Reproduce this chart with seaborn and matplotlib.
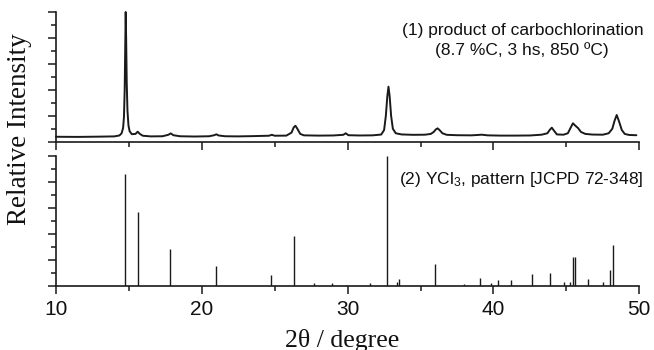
import matplotlib
matplotlib.use("Agg")
import matplotlib.pyplot as plt
from matplotlib.ticker import MultipleLocator
import seaborn as sns
import pandas as pd

# ---- data ----
# (1) measured pattern (2theta, relative intensity, max = 100)
meas_2theta = [10.0, 11.5, 13.0, 14.0, 14.35, 14.5, 14.6, 14.66, 14.71, 14.75, 14.78, 14.81,
               14.85, 14.9, 14.97, 15.05, 15.2, 15.45, 15.6, 15.75, 15.95, 16.5, 17.3, 17.7,
               17.87, 18.05, 18.5, 19.5, 20.5, 20.85, 21.0, 21.15, 21.6, 22.5, 23.5, 24.6,
               24.8, 25.0, 25.8, 26.15, 26.3, 26.42, 26.55, 26.75, 27.0, 28.0, 29.0, 29.7,
               29.87, 30.05, 30.8, 31.7, 32.3, 32.5, 32.62, 32.72, 32.8, 32.88, 32.98, 33.1,
               33.3, 33.7, 34.5, 35.3, 35.7, 35.9, 36.05, 36.17, 36.3, 36.5, 36.8, 37.5,
               38.5, 39.2, 39.6, 40.5, 41.5, 42.5, 43.3, 43.7, 43.85, 44.0, 44.15, 44.35,
               44.8, 45.1, 45.3, 45.45, 45.6, 45.8, 46.0, 46.3, 46.8, 47.5, 47.9, 48.15,
               48.3, 48.45, 48.6, 48.8, 49.0, 49.3, 49.8]
meas_int = [3.8, 3.7, 3.9, 4.1, 4.8, 6.5, 10.5, 19, 40, 75, 100, 80,
            46, 24, 12.5, 8, 5.8, 6.0, 7.7, 6.0, 4.6, 4.1, 4.2, 5.3,
            6.4, 5.0, 4.2, 4.0, 4.2, 5.0, 5.7, 4.8, 4.2, 4.1, 4.3, 4.6,
            5.3, 4.6, 4.7, 7.0, 11.0, 12.3, 10, 6.0, 4.9, 4.7, 4.8, 5.3,
            6.5, 5.0, 4.8, 4.9, 5.5, 9, 20, 35, 42.4, 35, 20, 10,
            6.5, 5.6, 5.3, 5.4, 6.0, 7.5, 9.5, 10.3, 9.0, 6.5, 5.3, 5.0,
            4.9, 5.4, 4.9, 4.7, 4.7, 4.8, 5.4, 6.5, 9.0, 10.8, 8.5, 5.6,
            5.4, 6.5, 11, 14.2, 12.5, 10.5, 7.5, 6.0, 5.5, 5.4, 6.5, 10,
            16, 20.6, 16, 9, 6.0, 5.2, 5.0]

# (2) YCl3 reference pattern [JCPD 72-348]
ref_2theta = [14.73, 15.60, 17.80, 20.98, 24.73, 26.31, 27.66, 28.90, 29.90, 31.50,
              32.69, 33.37, 33.50, 36.00, 38.00, 39.09, 39.83, 40.28, 41.17, 42.64,
              43.87, 44.87, 45.22, 45.45, 45.59, 46.50, 47.48, 48.01, 48.22]
ref_int = [86, 57, 28.5, 15.4, 8, 38.5, 1.8, 2.3, 0.8, 2.3,
           100, 2.5, 4.9, 16.5, 1.2, 5.6, 2.3, 4.4, 4.4, 9,
           10, 3.1, 3.1, 22.4, 22.4, 4.9, 2.9, 12.1, 31.6]

x_ticks = [10, 20, 30, 40, 50]
label_top1 = "(1) product of carbochlorination"
label_top2 = "(8.7 %C, 3 hs, 850 ºC)"
label_bottom = "(2) YCl$_3$, pattern [JCPD 72-348]"
x_label = "2θ / degree"
y_label = "Relative Intensity"

# ---- styling ----
sns.set_style("ticks")
plt.rcParams["font.family"] = ["Liberation Sans", "DejaVu Sans"]
plt.rcParams["mathtext.fontset"] = "custom"
plt.rcParams["mathtext.rm"] = "Liberation Sans"
plt.rcParams["mathtext.it"] = "Liberation Sans:italic"

W, H = 654, 350
fig = plt.figure(figsize=(W / 100, H / 100), dpi=100)
fig.patch.set_facecolor("white")

left = 56 / W
width = (639.3 - 56) / W
h_ax = 129.7 / H
ax1 = fig.add_axes([left, 1 - 141.7 / H, width, h_ax])
ax2 = fig.add_axes([left, 1 - 285.7 / H, width, h_ax])

df_meas = pd.DataFrame({"two_theta": meas_2theta, "intensity": meas_int})
sns.lineplot(data=df_meas, x="two_theta", y="intensity", ax=ax1,
             color="#1a1a1a", linewidth=1.4, clip_on=False)

ax2.vlines(ref_2theta, 0, ref_int, color="#1a1a1a", linewidth=1.0)

for ax in (ax1, ax2):
    ax.set_xlim(10, 50)
    ax.set_ylim(0, 100)
    for s in ("top", "right"):
        ax.spines[s].set_visible(False)
    for s in ("left", "bottom"):
        ax.spines[s].set_linewidth(1.2)
        ax.spines[s].set_color("#1a1a1a")
    ax.xaxis.set_major_locator(MultipleLocator(10))
    ax.xaxis.set_minor_locator(MultipleLocator(5))
    ax.yaxis.set_major_locator(MultipleLocator(20))
    ax.yaxis.set_minor_locator(MultipleLocator(10))
    ax.tick_params(axis="both", which="major", direction="out", length=6, width=1.1,
                   color="#1a1a1a")
    ax.tick_params(axis="both", which="minor", direction="out", length=3.5, width=1.1,
                   color="#1a1a1a")
    ax.tick_params(axis="y", which="both", labelleft=False)
    ax.set_xlabel("")
    ax.set_ylabel("")
    ax.set_facecolor("white")

ax1.tick_params(axis="x", which="both", labelbottom=False)
ax2.set_xticks(x_ticks)
ax2.set_xticklabels([str(t) for t in x_ticks])
ax2.tick_params(axis="x", which="major", labelsize=15, pad=4, labelcolor="#111111")

fig.text(644 / W, 1 - 30 / H, label_top1, ha="right", va="center", fontsize=12.5,
         color="#111111")
fig.text(521.7 / W, 1 - 50 / H, label_top2, ha="center", va="center", fontsize=12.5,
         color="#111111")
fig.text(643 / W, 1 - 180 / H, label_bottom, ha="right", va="center", fontsize=12.5,
         color="#111111")

fig.text(20 / W, 1 - 129 / H, y_label, rotation=90, ha="center", va="center",
         fontsize=19.5, family=["Liberation Serif", "DejaVu Serif"], color="#111111")
fig.text(342 / W, 1 - 340 / H, x_label, ha="center", va="center",
         fontsize=18.5, family=["Liberation Serif", "DejaVu Serif"], color="#111111")

fig.savefig("out.png", dpi=100, facecolor="white")
